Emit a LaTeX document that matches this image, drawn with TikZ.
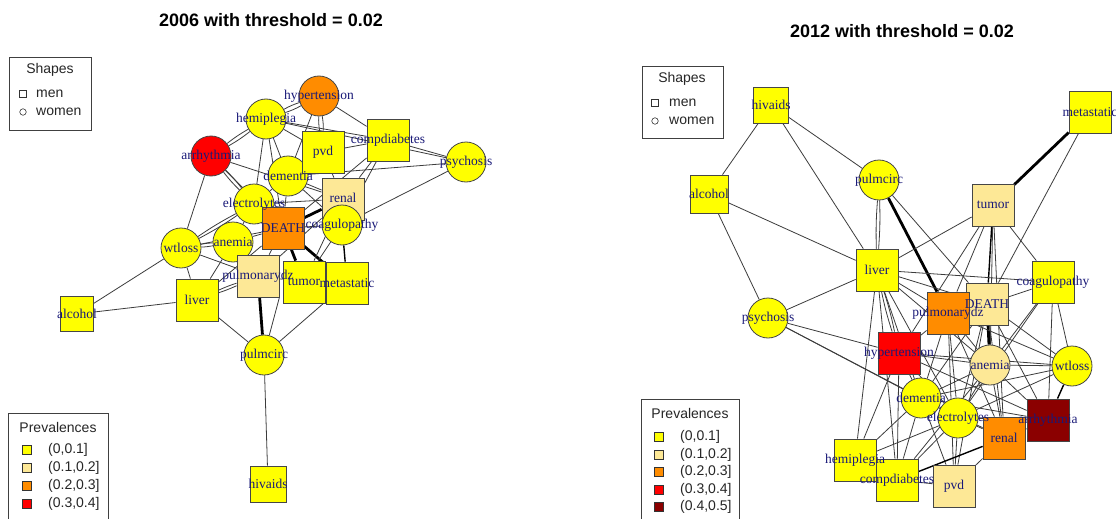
\documentclass[tikz,border=0pt]{standalone}
\usepackage{fontspec}
\setmainfont{Liberation Serif}
\newfontfamily\sansf{Liberation Sans}
\definecolor{yel}{RGB}{255,255,0}
\definecolor{lgt}{RGB}{253,232,150}
\definecolor{dor}{RGB}{255,140,0}
\definecolor{rd}{RGB}{255,0,0}
\definecolor{drd}{RGB}{139,0,0}
\definecolor{labblue}{RGB}{25,25,120}
\definecolor{edgegray}{RGB}{60,60,60}
\definecolor{bord}{RGB}{70,70,70}
\pgfdeclarelayer{bg}
\pgfdeclarelayer{edges}
\pgfsetlayers{bg,edges,main}
\tikzset{
  circ/.style={circle, draw=bord, line width=0.8pt, minimum size=40pt, inner sep=0pt},
  sq/.style={rectangle, draw=bord, line width=0.8pt, minimum width=42pt, minimum height=42pt, inner sep=0pt},
  lab/.style={font=\fontsize{13.5}{13.5}\selectfont, text=labblue, inner sep=0pt},
  e/.style={draw=edgegray, line width=0.8pt},
  eb/.style={draw=black, line width=1.4pt},
  et/.style={draw=black, line width=2.8pt},
  ttl/.style={font=\sansf\bfseries\fontsize{18}{18}\selectfont, inner sep=0pt},
  leg/.style={font=\sansf\fontsize{14}{14}\selectfont, inner sep=0pt, text=black!85},
  legbox/.style={draw=black!75, line width=0.8pt},
  legsq/.style={draw=black!80, line width=0.6pt, minimum size=9pt, inner sep=0pt, rectangle},
}
\begin{document}
\begin{tikzpicture}[x=1pt,y=-1pt]
\begin{pgfonlayer}{bg}
\fill[white] (0,0) rectangle (1116,519);
\end{pgfonlayer}
\useasboundingbox (0,0) rectangle (1116,519);
% ---------------- titles ----------------
\node[ttl] (t1) at (271,20) {2006 with threshold = 0.02};
\node[ttl] (t2) at (902,31) {2012 with threshold = 0.02};
% ---------------- left legends ----------------
\draw[legbox] (9,57) rectangle (91,130);
\node[leg] (s1) at (50,70) {Shapes};
\node[draw=black!80, line width=0.6pt, minimum size=7pt, inner sep=0pt] (s1m) at (23,94) {};
\node[leg, anchor=west] (s1mt) at (36,94) {men};
\node[draw=black!80, line width=0.6pt, circle, minimum size=6.5pt, inner sep=0pt] (s1w) at (23,112) {};
\node[leg, anchor=west] (s1wt) at (36,112) {women};
\draw[legbox] (8,530) -- (8,413) -- (108,413) -- (108,530);
\node[leg] (p1) at (58,427) {Prevalences};
\node[legsq, fill=yel] (p1a) at (27,450) {}; \node[leg, anchor=west] at (48,450) {(0,0.1]};
\node[legsq, fill=lgt] (p1b) at (27,468) {}; \node[leg, anchor=west] at (48,468) {(0.1,0.2]};
\node[legsq, fill=dor] (p1c) at (27,486) {}; \node[leg, anchor=west] at (48,486) {(0.2,0.3]};
\node[legsq, fill=rd] (p1d) at (27,504) {}; \node[leg, anchor=west] at (48,504) {(0.3,0.4]};
% ---------------- right legends ----------------
\draw[legbox] (642,66) rectangle (723,138);
\node[leg] (s2) at (682,79) {Shapes};
\node[draw=black!80, line width=0.6pt, minimum size=7pt, inner sep=0pt] (s2m) at (655,103) {};
\node[leg, anchor=west] (s2mt) at (669,103) {men};
\node[draw=black!80, line width=0.6pt, circle, minimum size=6.5pt, inner sep=0pt] (s2w) at (655,121) {};
\node[leg, anchor=west] (s2wt) at (669,121) {women};
\draw[legbox] (641,530) -- (641,399) -- (739,399) -- (739,530);
\node[leg] (p2) at (690,413) {Prevalences};
\node[legsq, fill=yel] (p2a) at (659,437) {}; \node[leg, anchor=west] at (680,437) {(0,0.1]};
\node[legsq, fill=lgt] (p2b) at (659,454.5) {}; \node[leg, anchor=west] at (680,454.5) {(0.1,0.2]};
\node[legsq, fill=dor] (p2c) at (659,472) {}; \node[leg, anchor=west] at (680,472) {(0.2,0.3]};
\node[legsq, fill=rd] (p2d) at (659,489.5) {}; \node[leg, anchor=west] at (680,489.5) {(0.3,0.4]};
\node[legsq, fill=drd] (p2e) at (659,507) {}; \node[leg, anchor=west] at (680,507) {(0.4,0.5]};
% ---------------- left graph nodes ----------------
\node[circ, fill=dor] (Lhyp) at (319,96) {};
\node[circ, fill=yel] (Lhem) at (266,119) {};
\node[circ, fill=rd] (Larr) at (211,156) {};
\node[circ, fill=yel] (Lpsy) at (466,162) {};
\node[sq, fill=yel] (Lcdi) at (388,140) {};
\node[circ, fill=yel] (Ldem) at (288,176) {};
\node[sq, fill=yel] (Lpvd) at (323,152) {};
\node[circ, fill=yel] (Lele) at (254,204) {};
\node[sq, fill=dor] (Ldea) at (283,228) {};
\node[sq, fill=lgt] (Lren) at (343,199) {};
\node[circ, fill=yel] (Lcoa) at (342,225) {};
\node[circ, fill=yel] (Lwtl) at (181,248) {};
\node[circ, fill=yel] (Lane) at (233,242) {};
\node[sq, fill=lgt] (Lpul) at (258,276) {};
\node[sq, fill=yel] (Ltum) at (304,282) {};
\node[sq, fill=yel] (Lmet) at (347,283) {};
\node[sq, fill=yel] (Lliv) at (197,300) {};
\node[sq, fill=yel, minimum width=33pt, minimum height=35pt] (Lalc) at (77,314) {};
\node[circ, fill=yel] (Lpci) at (264,355) {};
\node[sq, fill=yel, minimum width=36pt, minimum height=36pt] (Lhiv) at (268,484) {};
% ---------------- right graph nodes ----------------
\node[sq, fill=yel, minimum width=35pt, minimum height=36pt] (Rhiv) at (771,105) {};
\node[sq, fill=yel, minimum width=38pt, minimum height=38pt] (Ralc) at (709,194) {};
\node[circ, fill=yel] (Rpci) at (879,180) {};
\node[sq, fill=yel] (Rmet) at (1090,112) {};
\node[sq, fill=lgt] (Rtum) at (993,205) {};
\node[sq, fill=yel] (Rliv) at (877,270) {};
\node[sq, fill=yel] (Rcoa) at (1053,282) {};
\node[sq, fill=lgt] (Rdea) at (987,304) {};
\node[sq, fill=dor] (Rpul) at (948,313) {};
\node[circ, fill=yel] (Rpsy) at (768,318) {};
\node[sq, fill=rd] (Rhyp) at (899,353) {};
\node[circ, fill=lgt] (Rane) at (990,365) {};
\node[circ, fill=yel] (Rwtl) at (1072,366) {};
\node[circ, fill=yel] (Rdem) at (921,398) {};
\node[circ, fill=yel] (Rele) at (958,418) {};
\node[sq, fill=drd] (Rarr) at (1048,420) {};
\node[sq, fill=dor] (Rren) at (1004,438) {};
\node[sq, fill=yel] (Rhem) at (855,460) {};
\node[sq, fill=yel] (Rcdi) at (897,480) {};
\node[sq, fill=lgt] (Rpvd) at (954,486) {};
% ---------------- left graph edges ----------------
\begin{pgfonlayer}{edges}
\draw[e] (Lhyp) to[bend left=5] (Lhem); \draw[e] (Lhyp) to[bend right=5] (Lhem);
\draw[e] (Lhyp) to[bend left=5] (Lpvd); \draw[e] (Lhyp) to[bend right=5] (Lpvd);
\draw[e] (Lhyp) -- (Lcdi);
\draw[e] (Lhyp) -- (Ldem);
\draw[e] (Lhem) to[bend left=4] (Larr); \draw[e] (Lhem) to[bend right=4] (Larr);
\draw[e] (Lhem) -- (Lcdi);
\draw[e] (Lhem) -- (Lpvd);
\draw[e] (Lhem) -- (Ldem);
\draw[e] (Lhem) -- (Lele);
\draw[e] (Lhem) -- (Ldea);
\draw[e] (Lhem) -- (Lpsy);
\draw[e] (Larr) to[bend left=4] (Lele); \draw[e] (Larr) to[bend right=4] (Lele);
\draw[e] (Larr) -- (Lwtl);
\draw[e] (Larr) -- (Ldea);
\draw[e] (Larr) -- (Lren);
\draw[e] (Lpvd) -- (Lcdi);
\draw[e] (Lpvd) -- (Ldem);
\draw[e] (Lpvd) -- (Lren);
\draw[e] (Ldem) -- (Lpsy);
\draw[e] (Lcdi) -- (Lpsy);
\draw[e] (Lcdi) -- (Lren);
\draw[e] (Lcdi) -- (Ldea);
\draw[e] (Lcdi) -- (Lcoa);
\draw[e] (Lpsy) -- (Lcoa);
\draw[e] (Ldem) -- (Lele);
\draw[e] (Ldem) -- (Ldea);
\draw[e] (Ldem) -- (Lren);
\draw[e] (Ldem) -- (Lcoa);
\draw[e] (Lele) -- (Ldea);
\draw[e] (Lele) -- (Lane);
\draw[e] (Lele) to[bend left=3] (Lwtl); \draw[e] (Lele) to[bend right=3] (Lwtl);
\draw[e] (Lele) -- (Lren);
\draw[et] (Ldea) -- (Lren);
\draw[e] (Ldea) -- (Lcoa);
\draw[et] (Ldea) -- (Ltum);
\draw[et] (Ldea) -- (Lmet);
\draw[e] (Ldea) -- (Lpul);
\draw[e] (Ldea) -- (Lane);
\draw[e] (Ldea) -- (Lwtl);
\draw[e] (Ldea) -- (Lliv);
\draw[e] (Lren) -- (Lcoa);
\draw[e] (Lren) -- (Ltum);
\draw[eb] (Lcoa) -- (Lmet);
\draw[e] (Lcoa) -- (Ltum);
\draw[e] (Lwtl) to[bend left=4] (Lane); \draw[e] (Lwtl) to[bend right=4] (Lane);
\draw[e] (Lwtl) -- (Lliv);
\draw[e] (Lwtl) -- (Lalc);
\draw[e] (Lwtl) -- (Lpul);
\draw[e] (Lane) -- (Lpul);
\draw[e] (Lane) -- (Lliv);
\draw[e] (Lliv) -- (Lalc);
\draw[e] (Lliv) to[bend left=3] (Lpul); \draw[e] (Lliv) to[bend right=3] (Lpul);
\draw[e] (Lliv) -- (Lpci);
\draw[et] (Lpul) -- (Lpci);
\draw[e] (Lpul.south east) -- (Lpci);
\draw[e] (Lpul) -- (Ltum);
\draw[e] (Lpul) -- (Lren);
\draw[e] (Ltum) -- (Lmet);
\draw[e] (Lmet) -- (Lpci);
\draw[e] (Lpci) -- (Lhiv);
% ---------------- right graph edges ----------------
\draw[e] (Rhiv) -- (Ralc);
\draw[e] (Rhiv) -- (Rpci);
\draw[e] (Rhiv) -- (Rliv);
\draw[e] (Ralc) -- (Rliv);
\draw[e] (Ralc) -- (Rpsy);
\draw[e] (Rpci) to[bend left=3] (Rliv); \draw[e] (Rpci) to[bend right=3] (Rliv);
\draw[et] (Rpci) -- (Rpul);
\draw[e] (Rpci) -- (Rdea);
\draw[et] (Rmet) -- (Rtum);
\draw[e] (Rmet) -- (Rdea);
\draw[e] (Rtum) -- (Rliv);
\draw[eb] (Rtum) -- (Rdea);
\draw[e] (Rtum) -- (Rpul);
\draw[e] (Rtum) -- (Rhyp);
\draw[e] (Rtum) -- (Rcoa);
\draw[e] (Rtum) -- (Rane);
\draw[e] (Rtum) -- (Rren);
\draw[e] (Rliv) -- (Rcoa);
\draw[e] (Rliv) -- (Rdea);
\draw[e] (Rliv) -- (Rpul);
\draw[e] (Rliv) to[bend left=3] (Rhyp); \draw[e] (Rliv) to[bend right=3] (Rhyp);
\draw[e] (Rliv) -- (Rdem);
\draw[e] (Rliv) -- (Rpsy);
\draw[e] (Rliv) -- (Rane);
\draw[e] (Rliv) -- (Rcdi);
\draw[e] (Rliv) -- (Rhem);
\draw[e] (Rliv) -- (Rele);
\draw[e] (Rpsy) -- (Rhyp);
\draw[e] (Rpsy) -- (Rdem);
\draw[e] (Rpsy) -- (Rele);
\draw[e] (Rcoa) -- (Rdea);
\draw[e] (Rcoa) -- (Rwtl);
\draw[e] (Rcoa) -- (Rane);
\draw[e] (Rcoa) -- (Rele);
\draw[e] (Rcoa) -- (Rarr);
\draw[e] (Rdea) -- (Rpul);
\draw[et] (Rdea) -- (Rane);
\draw[e] (Rdea) -- (Rwtl);
\draw[e] (Rdea) -- (Rren);
\draw[e] (Rdea) -- (Rarr);
\draw[e] (Rdea) -- (Rele);
\draw[e] (Rdea) -- (Rdem);
\draw[e] (Rdea) -- (Rpvd);
\draw[e] (Rpul) -- (Rhyp);
\draw[e] (Rpul) -- (Rane);
\draw[e] (Rpul) -- (Rele);
\draw[e] (Rpul) -- (Rdem);
\draw[e] (Rpul) -- (Rpvd);
\draw[e] (Rpul) -- (Rren);
\draw[e] (Rpul) -- (Rwtl);
\draw[e] (Rhyp) -- (Rane);
\draw[e] (Rhyp) -- (Rdem);
\draw[e] (Rhyp) -- (Rhem);
\draw[e] (Rhyp) -- (Rcdi);
\draw[e] (Rhyp) -- (Rele);
\draw[e] (Rhyp) -- (Rarr);
\draw[e] (Rhyp) -- (Rwtl);
\draw[e] (Rane) -- (Rwtl);
\draw[e] (Rane) -- (Rren);
\draw[e] (Rane) -- (Rarr);
\draw[e] (Rane) -- (Rdem);
\draw[e] (Rane) -- (Rele);
\draw[e] (Rane) -- (Rcdi);
\draw[eb] (Rwtl) -- (Rarr);
\draw[e] (Rwtl) -- (Rele);
\draw[e] (Rwtl) -- (Rdem);
\draw[e] (Rele) -- (Rren);
\draw[e] (Rele) -- (Rpvd);
\draw[e] (Rele) -- (Rcdi);
\draw[e] (Rele) -- (Rhem);
\draw[e] (Rele) -- (Rarr);
\draw[e] (Rdem) -- (Rhem);
\draw[e] (Rdem) -- (Rcdi);
\draw[e] (Rdem) -- (Rpvd);
\draw[e] (Rdem) -- (Rarr);
\draw[e] (Rdem) -- (Rren);
\draw[eb] (Rren) -- (Rcdi);
\draw[e] (Rren) -- (Rarr);
\draw[e] (Rren) -- (Rpvd);
\draw[e] (Rhem) -- (Rcdi);
\draw[e] (Rpvd) -- (Rcdi);
\end{pgfonlayer}
% ---------------- labels (drawn on top) ----------------
\node[lab] at (Lhyp) {hypertension};
\node[lab] at (Lhem) {hemiplegia};
\node[lab] at (Larr) {arrhythmia};
\node[lab] at (Lpsy) {psychosis};
\node[lab] at (Lcdi) {compdiabetes};
\node[lab] at (Ldem) {dementia};
\node[lab] at (Lpvd) {pvd};
\node[lab] at (Lele) {electrolytes};
\node[lab] at (Ldea) {DEATH};
\node[lab] at ([yshift=1pt]Lren) {renal};
\node[lab] at (Lcoa) {coagulopathy};
\node[lab] at (Lwtl) {wtloss};
\node[lab] at (Lane) {anemia};
\node[lab] at (Lpul) {pulmonarydz};
\node[lab] at (Ltum) {tumor};
\node[lab] at (Lmet) {metastatic};
\node[lab] at (Lliv) {liver};
\node[lab] at (Lalc) {alcohol};
\node[lab] at (Lpci) {pulmcirc};
\node[lab] at (Lhiv) {hivaids};
\node[lab] at (Rhiv) {hivaids};
\node[lab] at (Ralc) {alcohol};
\node[lab] at (Rpci) {pulmcirc};
\node[lab] at (Rmet) {metastatic};
\node[lab] at (Rtum) {tumor};
\node[lab] at (Rliv) {liver};
\node[lab] at (Rcoa) {coagulopathy};
\node[lab] at (Rdea) {DEATH};
\node[lab] at (Rpul) {pulmonarydz};
\node[lab] at (Rpsy) {psychosis};
\node[lab] at (Rhyp) {hypertension};
\node[lab] at (Rane) {anemia};
\node[lab] at (Rwtl) {wtloss};
\node[lab] at (Rdem) {dementia};
\node[lab] at (Rele) {electrolytes};
\node[lab] at (Rarr) {arrhythmia};
\node[lab] at (Rren) {renal};
\node[lab] at (Rhem) {hemiplegia};
\node[lab] at (Rcdi) {compdiabetes};
\node[lab] at (Rpvd) {pvd};
\end{tikzpicture}
\end{document}
